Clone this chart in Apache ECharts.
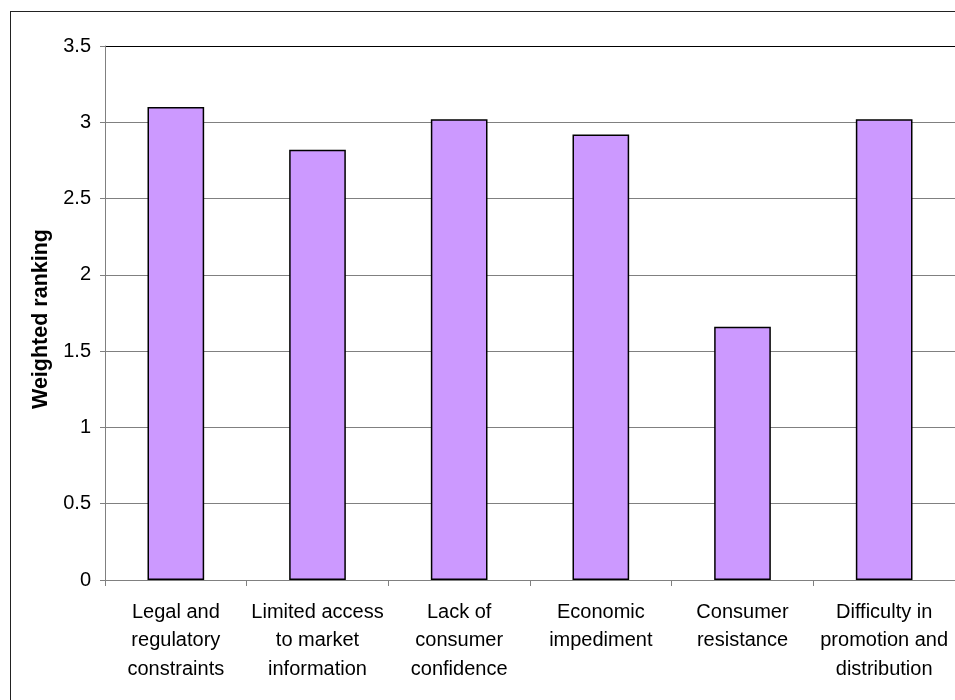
<!DOCTYPE html>
<html>
<head>
<meta charset="utf-8">
<script src="https://cdn.jsdelivr.net/npm/echarts@6/dist/echarts.min.js"></script>
<style>
  html, body { margin: 0; padding: 0; background: #fff; }
  #wrap { position: relative; width: 955px; height: 700px; overflow: hidden; }
  #chart { position: absolute; left: 0; top: 0; width: 955px; height: 700px; }
  #frame { position: absolute; left: 10px; top: 11px; width: 1000px; height: 1000px;
           border-left: 1.5px solid #222; border-top: 1.5px solid #222; pointer-events: none; }
</style>
</head>
<body>
<div id="wrap">
  <div id="chart"></div>
  <div id="frame"></div>
</div>
<script>
// Barriers to adoption, weighted ranking
const categories = [
  'Legal and\nregulatory\nconstraints',
  'Limited access\nto market\ninformation',
  'Lack of\nconsumer\nconfidence',
  'Economic\nimpediment',
  'Consumer\nresistance',
  'Difficulty in\npromotion and\ndistribution'
];
const rankings = [3.10, 2.82, 3.02, 2.92, 1.66, 3.02];
const yTicks = { min: 0, max: 3.5, interval: 0.5 };
const yAxisTitle = 'Weighted ranking';

const font = 'Arial, "Liberation Sans", sans-serif';
const chart = echarts.init(document.getElementById('chart'), null, { renderer: 'canvas' });

// grey grid lines, the top one (plot edge) in black
const splitColors = ['#808080', '#808080', '#808080', '#808080', '#808080', '#808080', '#808080', '#000000'];

chart.setOption({
  animation: false,
  backgroundColor: '#ffffff',
  grid: { left: 105, top: 46, right: 0, bottom: 120, containLabel: false },
  xAxis: {
    type: 'category',
    data: categories,
    axisLine: { show: true, lineStyle: { color: '#808080', width: 1 } },
    axisTick: { show: true, alignWithLabel: false, length: 6, lineStyle: { color: '#808080' } },
    axisLabel: {
      interval: 0, margin: 18, color: '#000', fontFamily: font, fontSize: 20,
      lineHeight: 28.5, align: 'center'
    },
    splitLine: { show: false }
  },
  yAxis: {
    type: 'value',
    min: yTicks.min, max: yTicks.max, interval: yTicks.interval,
    name: yAxisTitle,
    nameLocation: 'middle',
    nameGap: 45,
    nameRotate: 90,
    nameTextStyle: { color: '#000', fontFamily: font, fontSize: 21.5, fontWeight: 'bold', padding: [0, 12, 0, 0] },
    axisLine: { show: true, lineStyle: { color: '#808080', width: 1 } },
    axisTick: { show: true, length: 5, lineStyle: { color: '#808080' } },
    axisLabel: { margin: 14, color: '#000', fontFamily: font, fontSize: 20 },
    splitLine: { show: true, lineStyle: { color: splitColors, width: 1 } }
  },
  series: [{
    type: 'bar',
    data: rankings,
    barCategoryGap: '60%',
    itemStyle: { color: '#CC99FF', borderColor: '#000000', borderWidth: 1.5 }
  }]
});
</script>
</body>
</html>
